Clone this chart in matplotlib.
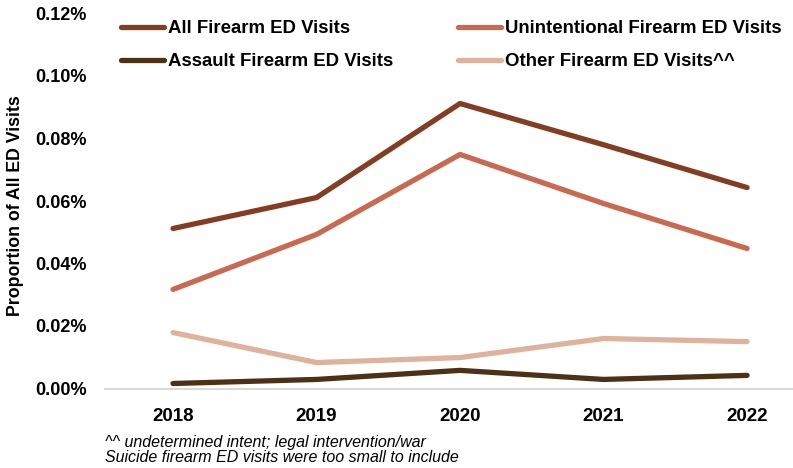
import matplotlib.pyplot as plt
import matplotlib
matplotlib.rcParams['font.family'] = ['Liberation Sans', 'DejaVu Sans']

years = ['2018', '2019', '2020', '2021', '2022']
all_fa = [0.0512, 0.0611, 0.0912, 0.0780, 0.0643]
unint = [0.0317, 0.0493, 0.0749, 0.0592, 0.0448]
assault = [0.0016, 0.0029, 0.0058, 0.0029, 0.0042]
other = [0.0179, 0.0083, 0.0099, 0.0160, 0.0150]

fig = plt.figure(figsize=(7.93, 4.68), dpi=100)
ax = fig.add_axes([105/793, 1-388.5/468, 1-105/793, (388.5-13.5)/468])

x = range(len(years))
lw = 3.8
l1, = ax.plot(x, all_fa, color='#843C22', lw=lw, solid_capstyle='round', label='All Firearm ED Visits')
l2, = ax.plot(x, unint, color='#C96A50', lw=lw, solid_capstyle='round', label='Unintentional Firearm ED Visits')
l3, = ax.plot(x, assault, color='#4E3115', lw=lw, solid_capstyle='round', label='Assault Firearm ED Visits')
l4, = ax.plot(x, other, color='#DDB39C', lw=lw, solid_capstyle='round', label='Other Firearm ED Visits^^')

ax.set_ylim(0, 0.12)
ax.set_xlim(-0.474, 4.32)
ax.set_yticks([0, 0.02, 0.04, 0.06, 0.08, 0.10, 0.12])
ax.set_yticklabels(['%.2f%%' % v for v in [0, 0.02, 0.04, 0.06, 0.08, 0.10, 0.12]],
                   fontsize=13, fontweight='bold')
ax.set_xticks(list(x))
ax.set_xticklabels(years, fontsize=13.5, fontweight='bold')
ax.tick_params(length=0)
ax.tick_params(axis='y', pad=13)
ax.tick_params(axis='x', pad=14)
for s in ['top', 'right', 'left']:
    ax.spines[s].set_visible(False)
ax.spines['bottom'].set_color('#D9D9D9')
ax.spines['bottom'].set_linewidth(1.5)

fig.text(16/793, 1-206/468, 'Proportion of All ED Visits', rotation=90, fontsize=12.8,
         fontweight='bold', ha='center', va='center')

ax.legend(handles=[l1, l3, l2, l4], ncol=2, frameon=False,
          prop={'weight': 'bold', 'size': 13.4},
          loc='upper left', bbox_to_anchor=(121/793, 1-20/468), bbox_transform=fig.transFigure,
          handlelength=2.3, handletextpad=0.2, columnspacing=3.52, labelspacing=0.88,
          borderpad=0, borderaxespad=0)

fig.text(105/793, 1-442/468, '^^ undetermined intent; legal intervention/war', fontsize=11.5,
         style='italic', ha='left', va='center')
fig.text(105/793, 1-457/468, 'Suicide firearm ED visits were too small to include', fontsize=11.5,
         style='italic', ha='left', va='center')

fig.savefig('out.png', dpi=100)
